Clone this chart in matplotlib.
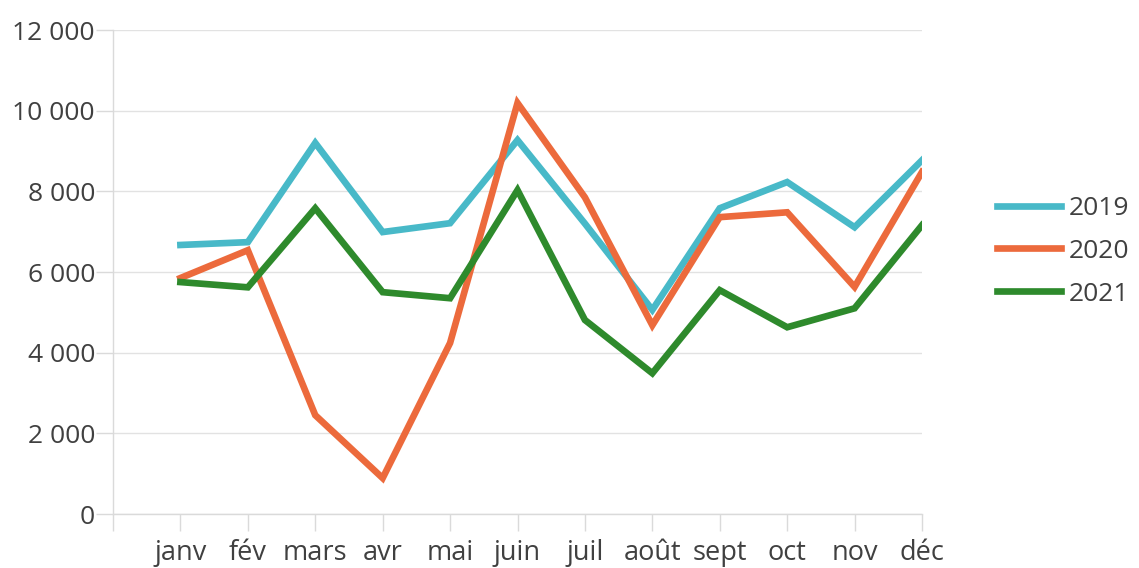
import matplotlib
matplotlib.use("Agg")
import matplotlib.pyplot as plt
import numpy as np

months = ["janv", "fév", "mars", "avr", "mai", "juin",
          "juil", "août", "sept", "oct", "nov", "déc"]
v2019 = [6670, 6740, 9200, 6990, 7210, 9270, 7200, 5060, 7580, 8230, 7110, 8770]
v2020 = [5850, 6540, 2450, 890, 4240, 10190, 7850, 4680, 7360, 7480, 5630, 8480]
v2021 = [5750, 5620, 7580, 5500, 5350, 8030, 4810, 3490, 5550, 4630, 5100, 7160]

series = [("2019", v2019, "#48B9C8"),
          ("2020", v2020, "#EC6A3C"),
          ("2021", v2021, "#2E8A2C")]

plt.rcParams['font.family'] = ['Open Sans', 'DejaVu Sans']

fig = plt.figure(figsize=(11.39, 5.68), dpi=100)
ax = fig.add_axes([113/1139, 1 - 514/568, (922-113)/1139, (514-30)/568])

x = np.arange(1, len(months) + 1)
for name, vals, col in series:
    ax.plot(x, vals, color=col, lw=4.8, label=name, solid_joinstyle='miter')

ax.set_xlim(0, 12)
ax.set_ylim(0, 12000)
ax.set_xticks(np.arange(0, 13))
ax.set_xticklabels([""] + months)
ax.set_yticks(np.arange(0, 12001, 2000))
ax.set_yticklabels([f"{v:,}".replace(",", " ") for v in range(0, 12001, 2000)])

ax.grid(axis='y', color='#E2E2E2', lw=1)
ax.set_axisbelow(True)
for s in ['top', 'right']:
    ax.spines[s].set_visible(False)
for s in ['left', 'bottom']:
    ax.spines[s].set_color('#DADADA')
    ax.spines[s].set_linewidth(1)
ax.tick_params(axis='both', colors='#DADADA', length=12, width=1,
               labelcolor='#404040', labelsize=19)
ax.tick_params(axis='x', pad=6, labelsize=19.5)
ax.tick_params(axis='y', pad=1)

ax.legend(loc='center left', bbox_to_anchor=(1.093, 0.543), frameon=False,
          fontsize=19, handlelength=2.4, handletextpad=0.3,
          labelspacing=0.68, borderpad=0, borderaxespad=0,
          labelcolor='#404040')

fig.savefig("out.png", dpi=100, facecolor='white')
